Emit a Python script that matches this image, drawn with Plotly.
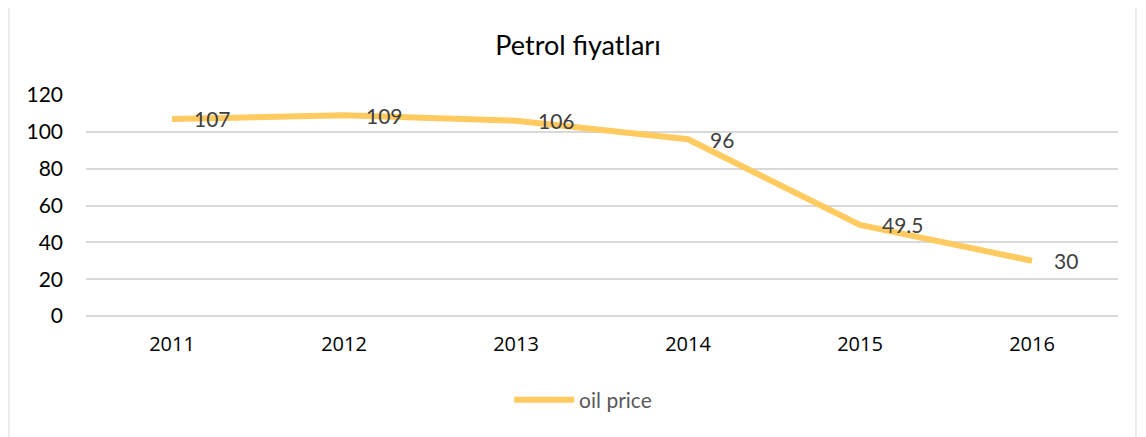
import plotly.graph_objects as go

years = ["2011", "2012", "2013", "2014", "2015", "2016"]
oil_price = [107, 109, 106, 96, 49.5, 30]
label_text = ["107", "109", "106", "96", "49.5", "30"]
y_ticks = [0, 20, 40, 60, 80, 100, 120]

LINE_COLOR = "rgb(255,202,96)"
FONT = "Lato, 'Open Sans', sans-serif"
NUMFONT = "'Open Sans', Lato, sans-serif"
OFF = 8  # browser body margin

fig = go.Figure()
fig.add_trace(go.Scatter(
    x=years, y=oil_price, mode="lines", name="oil price",
    line=dict(color=LINE_COLOR, width=6, shape="linear"),
    hoverinfo="x+y",
))

for i, (y, t) in enumerate(zip(oil_price, label_text)):
    fig.add_annotation(x=i, y=y, text=t, showarrow=False, xanchor="left",
                       yanchor="middle", xshift=20, yshift=0,
                       font=dict(family=FONT, size=21, color="#404040"))

fig.add_shape(type="rect", xref="paper", yref="paper",
              x0=-0.0746, x1=1.0174, y0=-0.57, y1=1.398,
              line=dict(color="#D9D9D9", width=1), fillcolor="rgba(0,0,0,0)",
              layer="below")

fig.update_layout(
    width=1146 - OFF, height=437 - OFF,
    margin=dict(l=86 - OFF, r=28, t=95 - OFF, b=121),
    paper_bgcolor="white", plot_bgcolor="white",
    title=dict(text="Petrol fiyatları", x=(578 - OFF) / (1146 - OFF), xanchor="center",
               y=1 - (46 - OFF) / (437 - OFF), yanchor="middle",
               font=dict(family=FONT, size=27, color="#000000")),
    font=dict(family=FONT),
    showlegend=True,
    legend=dict(orientation="h", x=0.41, xanchor="left", y=-0.38,
                yanchor="middle", font=dict(family=FONT, size=21, color="#595959"),
                itemwidth=60),
    xaxis=dict(type="category", range=[-0.5, 5.5], showgrid=False,
               showline=False, zeroline=False, ticks="", ticklabelstandoff=14,
               tickfont=dict(family=NUMFONT, size=20, color="#000000")),
    yaxis=dict(range=[0, 120], tickvals=y_ticks, showgrid=True,
               gridcolor="#D9D9D9", gridwidth=1.5, zeroline=True,
               zerolinecolor="#D9D9D9", zerolinewidth=1.5,
               showline=False, ticks="", ticklabelstandoff=22,
               tickfont=dict(family=FONT, size=21, color="#000000")),
)

fig.write_html("out.html")
